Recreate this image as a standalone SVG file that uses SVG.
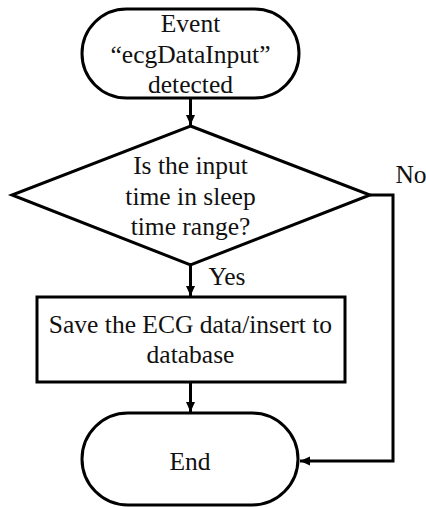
<svg xmlns="http://www.w3.org/2000/svg" width="426" height="507" viewBox="0 0 426 507">
<style>
.s{fill:#fff;stroke:#000;stroke-width:3}
.c{fill:none;stroke:#000;stroke-width:3}
.t{font-family:"Liberation Serif",serif;font-size:25.5px;fill:#111;text-anchor:middle}
</style>
<defs>
<marker id="a" viewBox="0 0 10 10" refX="10" refY="5" markerWidth="10" markerHeight="10" markerUnits="userSpaceOnUse" orient="auto">
<path d="M0,0.5 L10,5 L0,9.5 Z" fill="#000"/>
</marker>
</defs>
<rect width="426" height="507" fill="#fff"/>
<g id="connectors">
<line class="c" x1="190.5" y1="98" x2="190.5" y2="125" marker-end="url(#a)"/>
<line class="c" x1="190.5" y1="265" x2="190.5" y2="296" marker-end="url(#a)"/>
<line class="c" x1="190.5" y1="382" x2="190.5" y2="412" marker-end="url(#a)"/>
<polyline class="c" points="370,195 393,195 393,461 300,461" marker-end="url(#a)"/>
<text class="t" x="411" y="183">No</text>
<text class="t" x="227" y="285">Yes</text>
</g>
<g id="start">
<rect class="s" x="82" y="9" width="217" height="89" rx="44.5"/>
<text class="t" x="190.5" y="32">Event</text>
<text class="t" x="190.5" y="63">&#8220;ecgDataInput&#8221;</text>
<text class="t" x="190.5" y="93">detected</text>
</g>
<g id="decision">
<polygon class="s" points="190.5,126 370,195 190.5,265 12,195"/>
<text class="t" x="190.5" y="174">Is the input</text>
<text class="t" x="190.5" y="205">time in sleep</text>
<text class="t" x="190.5" y="235">time range?</text>
</g>
<g id="save">
<rect class="s" x="37" y="297" width="308" height="85"/>
<text class="t" x="190.5" y="333">Save the ECG data/insert to</text>
<text class="t" x="190.5" y="363">database</text>
</g>
<g id="end">
<rect class="s" x="82" y="413" width="216" height="92" rx="46"/>
<text class="t" x="190" y="470">End</text>
</g>
</svg>
